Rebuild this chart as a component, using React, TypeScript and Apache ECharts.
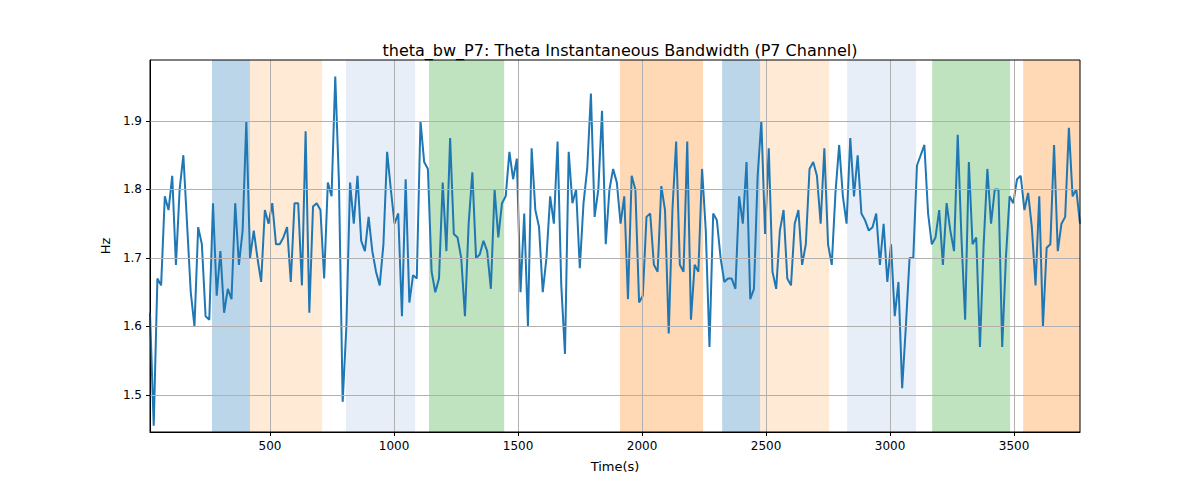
import { useEffect, useRef } from 'react';
import * as echarts from 'echarts';

const T_START = 16;
const T_END = 3766;

const values = [
  1.62, 1.455, 1.67, 1.66, 1.79, 1.77, 1.82, 1.69, 1.8, 1.85, 1.75, 1.65, 1.6, 1.745, 1.72, 1.615, 1.61, 1.78, 1.645, 1.71,
  1.62, 1.655, 1.64, 1.78, 1.69, 1.74, 1.9, 1.7, 1.74, 1.7, 1.665, 1.77, 1.75, 1.78, 1.72, 1.72, 1.73, 1.745, 1.665, 1.78,
  1.78, 1.66, 1.885, 1.62, 1.775, 1.78, 1.77, 1.67, 1.81, 1.79, 1.965, 1.81, 1.49, 1.6, 1.81, 1.75, 1.82, 1.725, 1.71, 1.76,
  1.71, 1.68, 1.66, 1.72, 1.855, 1.8, 1.75, 1.765, 1.615, 1.815, 1.635, 1.675, 1.67, 1.9, 1.84, 1.83, 1.68, 1.65, 1.67, 1.81,
  1.71, 1.875, 1.735, 1.73, 1.7, 1.615, 1.75, 1.825, 1.7, 1.705, 1.725, 1.71, 1.655, 1.8, 1.73, 1.78, 1.79, 1.855, 1.815, 1.845,
  1.65, 1.765, 1.6, 1.86, 1.77, 1.745, 1.65, 1.7, 1.79, 1.75, 1.87, 1.66, 1.56, 1.855, 1.78, 1.8, 1.685, 1.78, 1.83, 1.94,
  1.76, 1.8, 1.915, 1.72, 1.8, 1.83, 1.81, 1.75, 1.79, 1.64, 1.82, 1.8, 1.635, 1.645, 1.76, 1.765, 1.69, 1.68, 1.805, 1.77,
  1.59, 1.77, 1.87, 1.69, 1.68, 1.87, 1.61, 1.69, 1.68, 1.83, 1.74, 1.57, 1.765, 1.755, 1.7, 1.665, 1.67, 1.67, 1.655, 1.79,
  1.75, 1.84, 1.64, 1.655, 1.82, 1.9, 1.735, 1.86, 1.68, 1.655, 1.74, 1.77, 1.67, 1.66, 1.75, 1.77, 1.69, 1.72, 1.83, 1.84,
  1.82, 1.75, 1.86, 1.72, 1.69, 1.795, 1.865, 1.79, 1.75, 1.875, 1.79, 1.85, 1.765, 1.755, 1.74, 1.745, 1.765, 1.69, 1.75, 1.665,
  1.72, 1.615, 1.665, 1.51, 1.6, 1.7, 1.7, 1.835, 1.85, 1.865, 1.765, 1.72, 1.73, 1.77, 1.69, 1.78, 1.74, 1.71, 1.88, 1.73,
  1.61, 1.84, 1.72, 1.73, 1.57, 1.72, 1.83, 1.75, 1.8, 1.8, 1.57, 1.7, 1.79, 1.78, 1.815, 1.82, 1.77, 1.795, 1.745, 1.66,
  1.79, 1.6, 1.715, 1.72, 1.865, 1.71, 1.75, 1.76, 1.89, 1.79, 1.8, 1.75,
];

// [start, end, colour]
const bands: [number, number, string][] = [
  [266, 419, 'rgba(31,119,180,0.3)'],
  [419, 710, 'rgba(255,187,120,0.3)'],
  [806, 1085, 'rgba(174,199,232,0.3)'],
  [1141, 1444, 'rgba(44,160,44,0.3)'],
  [1911, 2246, 'rgba(255,127,14,0.3)'],
  [2323, 2476, 'rgba(31,119,180,0.3)'],
  [2476, 2754, 'rgba(255,187,120,0.3)'],
  [2827, 3105, 'rgba(174,199,232,0.3)'],
  [3170, 3484, 'rgba(44,160,44,0.3)'],
  [3537, 3766, 'rgba(255,127,14,0.3)'],
];

const xTicks = [500, 1000, 1500, 2000, 2500, 3000, 3500];
const yTicks = [1.5, 1.6, 1.7, 1.8, 1.9];

export default function App() {
  const ref = useRef<HTMLDivElement>(null);

  useEffect(() => {
    if (!ref.current) return;
    const chart = echarts.init(ref.current, null, { renderer: 'svg' });
    const step = (T_END - T_START) / (values.length - 1);
    const data = values.map((v, i) => [T_START + i * step, v]);
    const gridStyle = { color: '#b0b0b0', width: 1, type: 'solid' as const };

    chart.setOption({
      animation: false,
      textStyle: { fontFamily: 'DejaVu Sans' },
      title: {
        text: 'theta_bw_P7: Theta Instantaneous Bandwidth (P7 Channel)',
        left: 615,
        textAlign: 'center',
        top: 37,
        textStyle: { fontSize: 16, fontWeight: 'normal', color: '#000' },
      },
      grid: { left: 150, right: 120, top: 60, bottom: 68 },
      graphic: [
        {
          type: 'rect',
          shape: { x: 150, y: 60, width: 930, height: 372 },
          style: { fill: 'none', stroke: '#000', lineWidth: 1 },
          silent: true,
          z: 10,
        },
      ],
      xAxis: {
        type: 'value',
        min: T_START,
        max: T_END,
        name: 'Time(s)',
        nameLocation: 'middle',
        nameGap: 28,
        nameTextStyle: { fontSize: 13, color: '#000' },
        axisLine: { onZero: false, lineStyle: { color: '#000' } },
        axisTick: { customValues: xTicks, length: 4, lineStyle: { color: '#000' } },
        axisLabel: { customValues: xTicks, fontSize: 12, color: '#000', formatter: (v: number) => String(v) },
        splitLine: { show: false },
      },
      yAxis: {
        type: 'value',
        min: 1.446,
        max: 1.989,
        name: 'Hz',
        nameLocation: 'middle',
        nameGap: 38,
        nameTextStyle: { fontSize: 13, color: '#000' },
        axisLine: { show: true, lineStyle: { color: '#000' } },
        axisTick: { show: true, customValues: yTicks, length: 4, lineStyle: { color: '#000' } },
        axisLabel: { customValues: yTicks, fontSize: 12, color: '#000', formatter: (v: number) => v.toFixed(1) },
        splitLine: { show: false },
      },
      series: [
        {
          type: 'line',
          data,
          showSymbol: false,
          lineStyle: { color: '#1f77b4', width: 2 },
          markArea: {
            silent: true,
            data: bands.map(([a, b, c]) => [{ xAxis: a, itemStyle: { color: c } }, { xAxis: b }]),
          },
          markLine: {
            silent: true,
            symbol: 'none',
            label: { show: false },
            lineStyle: gridStyle,
            data: [...xTicks.map((x) => ({ xAxis: x })), ...yTicks.map((y) => ({ yAxis: y }))],
          },
          z: 3,
        },
      ],
    });
    return () => chart.dispose();
  }, []);

  return <div ref={ref} style={{ width: 1200, height: 500, margin: -8 }} />;
}
